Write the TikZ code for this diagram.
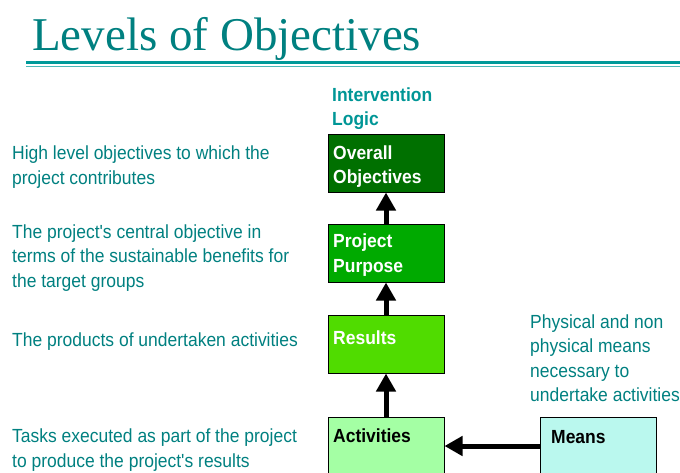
\documentclass[tikz,border=0pt]{standalone}
\usepackage{fontspec}
\setmainfont{Liberation Serif}
\newfontfamily\narrowsans[FakeStretch=0.92]{Liberation Sans}
\usetikzlibrary{arrows.meta}
\definecolor{titleteal}{RGB}{0,128,128}
\definecolor{ruleteal}{RGB}{0,153,153}
\definecolor{logicteal}{RGB}{0,150,150}
\definecolor{oogreen}{RGB}{0,112,0}
\definecolor{ppgreen}{RGB}{0,170,0}
\definecolor{resgreen}{RGB}{80,220,0}
\definecolor{actgreen}{RGB}{164,255,164}
\definecolor{meanscyan}{RGB}{186,248,238}
\begin{document}
\begin{tikzpicture}[x=1pt,y=-1pt,
    level/.style={draw=black,line width=1pt,minimum width=116pt,minimum height=58pt,inner sep=0pt},
    lbl/.style={font=\narrowsans\bfseries\fontsize{19}{24.5}\selectfont,anchor=base west,align=left,inner sep=0pt},
    note/.style={font=\narrowsans\fontsize{19}{24.5}\selectfont,text=titleteal,anchor=base west,align=left,inner sep=0pt},
    uparrow/.style={line width=5pt,-{Triangle[width=19pt,length=18pt]}}]
    \useasboundingbox (0,0) rectangle (680,472);
    \node[font=\rmfamily\fontsize{47}{50}\selectfont,text=titleteal,anchor=base west,inner sep=0pt] (title) at (32,50) {Levels of Objectives};
    \draw[ruleteal,line width=3pt] (26,62.8) -- (680,62.8);
    \draw[ruleteal!70,line width=1pt] (26,66) -- (680,66);

    % base anchor of a multi-line node sits on its last line
    \node[lbl,text=logicteal] (logic) at (332,125.5) {Intervention\\Logic};

    \node[level,fill=oogreen] (overall) at (386,163) {};
    \node[level,fill=ppgreen] (purpose) at (386,253) {};
    \node[level,fill=resgreen] (results) at (386,344) {};
    \node[level,fill=actgreen] (activities) at (386,446) {};
    \node[level,fill=meanscyan] (means) at (598.5,446) {};

    \node[lbl,text=white] (overalltxt) at (333,183.5) {Overall\\Objectives};
    \node[lbl,text=white] (purposetxt) at (333,272) {Project\\Purpose};
    \node[lbl,text=white] (resultstxt) at (333,344) {Results};
    \node[lbl,text=black] (activitiestxt) at (333,442) {Activities};
    \node[lbl,text=black] (meanstxt) at (551,443) {Means};

    \draw[uparrow] (purpose) -- (overall);
    \draw[uparrow] (results) -- (purpose);
    \draw[uparrow] (activities) -- (results);
    \draw[uparrow] (means) -- (activities);

    \node[note] (overallnote) at (12,184) {High level objectives to which the\\project contributes};
    \node[note] (purposenote) at (12,287) {The project's central objective in\\terms of the sustainable benefits for\\the target groups};
    \node[note] (resultsnote) at (12,346) {The products of undertaken activities};
    \node[note] (activitiesnote) at (12,467) {Tasks executed as part of the project\\to produce the project's results};
    \node[note] (meansnote) at (530,401.5) {Physical and non\\physical means\\necessary to\\undertake activities};
\end{tikzpicture}
\end{document}
